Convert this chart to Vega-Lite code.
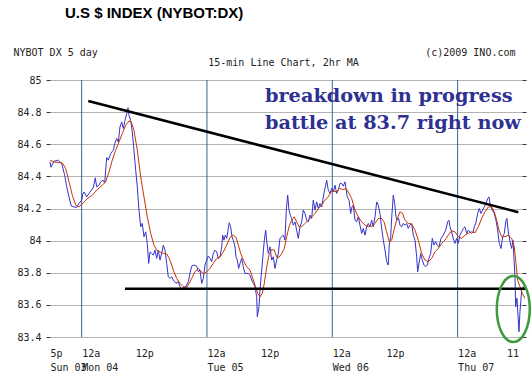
{
  "$schema": "https://vega.github.io/schema/vega-lite/v6.json",
  "width": 472,
  "height": 257,
  "autosize": "none",
  "padding": {"left": 50, "top": 80, "right": 10, "bottom": 40},
  "background": "white",
  "config": {"view": {"stroke": null}},
  "title": {"text": "U.S $ INDEX (NYBOT:DX)", "anchor": "start", "frame": "group", "dx": 15, "offset": 14, "baseline": "alphabetic", "font": "Liberation Sans", "fontSize": 15, "fontWeight": "bold", "color": "#000000"},
  "datasets": {
    "blue": [
      {"h":17.94,"v":84.490},{"h":18.13,"v":84.457},{"h":18.70,"v":84.494},{"h":19.53,"v":84.501},{"h":20.18,"v":84.480},{"h":20.75,"v":84.407},{"h":21.14,"v":84.335},{"h":21.58,"v":84.272},{"h":22.02,"v":84.215},{"h":22.53,"v":84.210},{"h":23.05,"v":84.206},{"h":23.49,"v":84.231},{"h":24.01,"v":84.252},{"h":24.20,"v":84.289},{"h":24.45,"v":84.303},{"h":24.97,"v":84.272},{"h":25.41,"v":84.294},{"h":25.85,"v":84.314},{"h":26.23,"v":84.331},{"h":26.61,"v":84.391},{"h":26.88,"v":84.335},{"h":27.32,"v":84.345},{"h":27.65,"v":84.366},{"h":28.09,"v":84.376},{"h":28.41,"v":84.359},{"h":28.80,"v":84.517},{"h":29.10,"v":84.501},{"h":29.56,"v":84.542},{"h":30.06,"v":84.563},{"h":30.39,"v":84.608},{"h":30.71,"v":84.636},{"h":31.02,"v":84.614},{"h":31.34,"v":84.708},{"h":31.67,"v":84.739},{"h":31.98,"v":84.698},{"h":32.30,"v":84.749},{"h":32.63,"v":84.791},{"h":32.88,"v":84.827},{"h":33.07,"v":84.780},{"h":33.39,"v":84.749},{"h":33.70,"v":84.677},{"h":34.02,"v":84.563},{"h":34.35,"v":84.438},{"h":34.66,"v":84.335},{"h":34.98,"v":84.190},{"h":35.31,"v":84.086},{"h":35.61,"v":84.107},{"h":35.94,"v":84.024},{"h":36.27,"v":84.055},{"h":36.57,"v":83.983},{"h":36.84,"v":83.858},{"h":37.09,"v":83.930},{"h":37.41,"v":83.920},{"h":37.72,"v":83.910},{"h":38.05,"v":83.941},{"h":38.37,"v":83.889},{"h":38.68,"v":83.941},{"h":39.00,"v":83.879},{"h":39.33,"v":83.920},{"h":39.64,"v":83.972},{"h":39.96,"v":83.941},{"h":40.29,"v":83.858},{"h":40.59,"v":83.775},{"h":40.92,"v":83.765},{"h":41.24,"v":83.775},{"h":41.55,"v":83.754},{"h":42.07,"v":83.734},{"h":42.51,"v":83.744},{"h":42.83,"v":83.713},{"h":43.16,"v":83.692},{"h":43.47,"v":83.709},{"h":43.98,"v":83.713},{"h":44.42,"v":83.744},{"h":44.75,"v":83.796},{"h":45.07,"v":83.841},{"h":45.51,"v":83.848},{"h":46.03,"v":83.841},{"h":46.34,"v":83.806},{"h":46.66,"v":83.817},{"h":46.99,"v":83.734},{"h":47.30,"v":83.765},{"h":47.62,"v":83.848},{"h":47.95,"v":83.879},{"h":48.25,"v":83.904},{"h":48.58,"v":83.889},{"h":48.90,"v":83.868},{"h":49.21,"v":83.920},{"h":49.54,"v":83.941},{"h":49.86,"v":83.930},{"h":50.17,"v":83.889},{"h":50.49,"v":83.899},{"h":50.82,"v":83.961},{"h":51.01,"v":84.034},{"h":51.26,"v":84.003},{"h":51.51,"v":84.034},{"h":51.78,"v":84.014},{"h":52.03,"v":84.065},{"h":52.27,"v":84.111},{"h":52.54,"v":84.086},{"h":52.79,"v":84.024},{"h":53.04,"v":84.003},{"h":53.37,"v":83.961},{"h":53.56,"v":83.899},{"h":53.81,"v":83.879},{"h":54.07,"v":83.827},{"h":54.32,"v":83.858},{"h":54.65,"v":83.889},{"h":54.96,"v":83.837},{"h":55.28,"v":83.796},{"h":55.91,"v":83.796},{"h":56.24,"v":83.785},{"h":56.56,"v":83.754},{"h":56.87,"v":83.734},{"h":57.20,"v":83.713},{"h":57.52,"v":83.650},{"h":57.64,"v":83.526},{"h":57.96,"v":83.588},{"h":58.15,"v":83.692},{"h":58.48,"v":83.817},{"h":58.79,"v":83.930},{"h":58.98,"v":84.003},{"h":59.25,"v":84.065},{"h":59.49,"v":83.983},{"h":59.74,"v":83.920},{"h":60.07,"v":83.961},{"h":60.39,"v":83.879},{"h":60.70,"v":83.899},{"h":61.03,"v":83.827},{"h":61.35,"v":83.879},{"h":61.66,"v":83.920},{"h":61.98,"v":84.014},{"h":62.31,"v":84.024},{"h":62.62,"v":84.034},{"h":62.94,"v":84.003},{"h":63.19,"v":84.190},{"h":63.46,"v":84.283},{"h":63.71,"v":84.190},{"h":63.96,"v":84.159},{"h":64.22,"v":84.138},{"h":64.53,"v":84.096},{"h":64.86,"v":84.117},{"h":65.18,"v":84.065},{"h":65.49,"v":84.014},{"h":65.81,"v":84.086},{"h":66.14,"v":84.117},{"h":66.45,"v":84.190},{"h":66.77,"v":84.169},{"h":67.10,"v":84.127},{"h":67.40,"v":84.117},{"h":67.73,"v":84.159},{"h":68.05,"v":84.138},{"h":68.36,"v":84.252},{"h":68.69,"v":84.190},{"h":69.01,"v":84.241},{"h":69.32,"v":84.200},{"h":69.64,"v":84.231},{"h":69.97,"v":84.210},{"h":70.28,"v":84.272},{"h":70.60,"v":84.325},{"h":70.93,"v":84.376},{"h":71.23,"v":84.314},{"h":71.56,"v":84.294},{"h":71.88,"v":84.325},{"h":72.19,"v":84.303},{"h":72.52,"v":84.345},{"h":72.84,"v":84.294},{"h":73.15,"v":84.314},{"h":73.47,"v":84.356},{"h":73.80,"v":84.356},{"h":74.11,"v":84.339},{"h":74.43,"v":84.366},{"h":74.62,"v":84.325},{"h":74.87,"v":84.272},{"h":75.20,"v":84.252},{"h":75.52,"v":84.169},{"h":75.77,"v":84.210},{"h":76.02,"v":84.221},{"h":76.35,"v":84.127},{"h":76.67,"v":84.117},{"h":76.98,"v":84.148},{"h":77.30,"v":84.096},{"h":77.63,"v":84.045},{"h":77.94,"v":84.076},{"h":78.26,"v":84.034},{"h":78.59,"v":84.086},{"h":78.89,"v":84.107},{"h":79.22,"v":84.086},{"h":79.54,"v":84.127},{"h":79.85,"v":84.086},{"h":80.18,"v":84.148},{"h":80.50,"v":84.241},{"h":80.81,"v":84.221},{"h":81.13,"v":84.169},{"h":81.46,"v":84.076},{"h":81.77,"v":84.003},{"h":82.09,"v":83.941},{"h":82.42,"v":83.868},{"h":82.72,"v":83.848},{"h":82.91,"v":83.972},{"h":83.18,"v":84.024},{"h":83.43,"v":84.169},{"h":83.68,"v":84.283},{"h":83.95,"v":84.231},{"h":84.20,"v":84.148},{"h":84.45,"v":84.127},{"h":84.71,"v":84.138},{"h":84.96,"v":84.096},{"h":85.29,"v":84.086},{"h":85.60,"v":84.107},{"h":85.92,"v":84.096},{"h":86.25,"v":84.107},{"h":86.55,"v":84.076},{"h":86.88,"v":84.096},{"h":87.20,"v":84.107},{"h":87.51,"v":84.034},{"h":87.84,"v":84.003},{"h":88.16,"v":83.899},{"h":88.35,"v":83.806},{"h":88.60,"v":83.858},{"h":88.93,"v":83.920},{"h":89.23,"v":83.879},{"h":89.56,"v":83.848},{"h":89.89,"v":83.837},{"h":90.19,"v":83.848},{"h":90.52,"v":83.889},{"h":90.84,"v":83.920},{"h":91.15,"v":84.014},{"h":91.47,"v":83.972},{"h":91.80,"v":83.993},{"h":92.11,"v":83.972},{"h":92.43,"v":83.961},{"h":92.82,"v":84.014},{"h":93.26,"v":84.034},{"h":93.72,"v":84.065},{"h":94.10,"v":84.117},{"h":94.35,"v":84.127},{"h":94.54,"v":84.086},{"h":94.86,"v":84.055},{"h":95.17,"v":84.014},{"h":95.50,"v":83.983},{"h":95.82,"v":84.014},{"h":96.13,"v":83.983},{"h":96.45,"v":84.034},{"h":96.78,"v":84.055},{"h":97.09,"v":84.076},{"h":97.41,"v":84.086},{"h":97.74,"v":84.045},{"h":98.04,"v":84.065},{"h":98.37,"v":84.055},{"h":98.69,"v":84.045},{"h":99.00,"v":84.055},{"h":99.19,"v":84.086},{"h":99.46,"v":84.107},{"h":99.84,"v":84.169},{"h":100.15,"v":84.200},{"h":100.47,"v":84.169},{"h":100.80,"v":84.190},{"h":101.11,"v":84.210},{"h":101.43,"v":84.231},{"h":101.76,"v":84.262},{"h":102.01,"v":84.272},{"h":102.26,"v":84.221},{"h":102.64,"v":84.190},{"h":103.02,"v":84.169},{"h":103.35,"v":84.127},{"h":103.67,"v":84.065},{"h":103.98,"v":83.983},{"h":104.31,"v":83.951},{"h":104.63,"v":84.024},{"h":104.94,"v":84.045},{"h":105.26,"v":84.127},{"h":105.45,"v":84.138},{"h":105.70,"v":84.055},{"h":106.03,"v":83.993},{"h":106.35,"v":83.951},{"h":106.60,"v":84.003},{"h":106.79,"v":83.889},{"h":106.99,"v":83.775},{"h":107.12,"v":83.588},{"h":107.37,"v":83.641},{"h":107.62,"v":83.506},{"h":107.75,"v":83.433},{"h":107.94,"v":83.557},{"h":108.27,"v":83.692},{"h":108.58,"v":83.713},{"h":108.90,"v":83.692}
    ],
    "red": [
      {"h":17.94,"v":84.501},{"h":18.70,"v":84.490},{"h":20.29,"v":84.484},{"h":20.95,"v":84.449},{"h":21.58,"v":84.366},{"h":22.21,"v":84.283},{"h":22.86,"v":84.221},{"h":23.49,"v":84.210},{"h":24.32,"v":84.235},{"h":25.08,"v":84.262},{"h":26.04,"v":84.283},{"h":27.00,"v":84.318},{"h":27.95,"v":84.345},{"h":28.61,"v":84.366},{"h":29.24,"v":84.428},{"h":29.87,"v":84.501},{"h":30.52,"v":84.563},{"h":31.15,"v":84.614},{"h":31.78,"v":84.667},{"h":32.43,"v":84.718},{"h":33.07,"v":84.745},{"h":33.51,"v":84.739},{"h":34.02,"v":84.687},{"h":34.66,"v":84.563},{"h":35.31,"v":84.397},{"h":35.94,"v":84.272},{"h":36.57,"v":84.148},{"h":37.22,"v":84.045},{"h":37.85,"v":83.972},{"h":38.37,"v":83.941},{"h":39.00,"v":83.930},{"h":39.64,"v":83.920},{"h":40.29,"v":83.916},{"h":40.78,"v":83.889},{"h":41.24,"v":83.848},{"h":41.68,"v":83.806},{"h":42.20,"v":83.765},{"h":42.83,"v":83.734},{"h":43.47,"v":83.713},{"h":44.12,"v":83.709},{"h":44.61,"v":83.734},{"h":45.07,"v":83.765},{"h":45.71,"v":83.806},{"h":46.34,"v":83.827},{"h":46.80,"v":83.812},{"h":47.30,"v":83.792},{"h":47.95,"v":83.806},{"h":48.58,"v":83.827},{"h":49.21,"v":83.858},{"h":49.86,"v":83.889},{"h":50.49,"v":83.899},{"h":51.13,"v":83.930},{"h":51.78,"v":83.972},{"h":52.41,"v":84.020},{"h":53.04,"v":84.034},{"h":53.56,"v":84.020},{"h":54.00,"v":83.972},{"h":54.46,"v":83.920},{"h":54.96,"v":83.879},{"h":55.61,"v":83.837},{"h":56.24,"v":83.817},{"h":56.68,"v":83.775},{"h":57.20,"v":83.723},{"h":57.71,"v":83.672},{"h":58.15,"v":83.650},{"h":58.59,"v":83.672},{"h":58.98,"v":83.734},{"h":59.44,"v":83.837},{"h":59.88,"v":83.910},{"h":60.39,"v":83.945},{"h":60.89,"v":83.941},{"h":61.35,"v":83.899},{"h":61.79,"v":83.896},{"h":62.31,"v":83.920},{"h":62.81,"v":83.951},{"h":63.27,"v":84.024},{"h":63.71,"v":84.086},{"h":64.22,"v":84.127},{"h":64.72,"v":84.148},{"h":65.18,"v":84.117},{"h":65.62,"v":84.086},{"h":66.14,"v":84.086},{"h":66.77,"v":84.107},{"h":67.40,"v":84.127},{"h":68.05,"v":84.148},{"h":68.69,"v":84.169},{"h":69.32,"v":84.200},{"h":69.97,"v":84.221},{"h":70.60,"v":84.252},{"h":71.23,"v":84.272},{"h":71.75,"v":84.303},{"h":72.19,"v":84.310},{"h":72.84,"v":84.303},{"h":73.34,"v":84.325},{"h":74.11,"v":84.318},{"h":74.62,"v":84.325},{"h":75.06,"v":84.303},{"h":75.71,"v":84.262},{"h":76.35,"v":84.190},{"h":76.98,"v":84.148},{"h":77.63,"v":84.117},{"h":78.26,"v":84.096},{"h":78.89,"v":84.086},{"h":79.54,"v":84.090},{"h":80.18,"v":84.107},{"h":80.81,"v":84.138},{"h":81.46,"v":84.138},{"h":81.90,"v":84.117},{"h":82.42,"v":84.055},{"h":82.91,"v":83.993},{"h":83.37,"v":84.003},{"h":83.81,"v":84.065},{"h":84.33,"v":84.127},{"h":84.96,"v":84.179},{"h":85.48,"v":84.169},{"h":85.92,"v":84.127},{"h":86.55,"v":84.107},{"h":87.20,"v":84.103},{"h":87.84,"v":84.065},{"h":88.47,"v":84.003},{"h":89.12,"v":83.920},{"h":89.75,"v":83.879},{"h":90.38,"v":83.868},{"h":91.03,"v":83.889},{"h":91.67,"v":83.930},{"h":92.30,"v":83.951},{"h":92.95,"v":83.983},{"h":93.58,"v":84.003},{"h":94.21,"v":84.034},{"h":94.86,"v":84.061},{"h":95.50,"v":84.055},{"h":96.13,"v":84.024},{"h":96.78,"v":84.014},{"h":97.41,"v":84.034},{"h":98.04,"v":84.045},{"h":98.69,"v":84.055},{"h":99.33,"v":84.049},{"h":99.96,"v":84.086},{"h":100.61,"v":84.138},{"h":101.24,"v":84.179},{"h":101.87,"v":84.210},{"h":102.52,"v":84.210},{"h":103.02,"v":84.179},{"h":103.48,"v":84.127},{"h":103.92,"v":84.065},{"h":104.44,"v":84.024},{"h":105.07,"v":84.024},{"h":105.70,"v":84.034},{"h":106.35,"v":84.014},{"h":106.85,"v":83.961},{"h":107.18,"v":83.858},{"h":107.50,"v":83.754},{"h":107.94,"v":83.713},{"h":108.38,"v":83.672},{"h":108.90,"v":83.641}
    ],
    "days": [{"h":24},{"h":48},{"h":72},{"h":96}],
    "trend": [{"h":25.27,"v":84.869},{"h":107.62,"v":84.177}],
    "support": [{"h":32.30,"h2":109.1,"v":83.70}],
    "circle": [{"h":106.66,"v":83.574}],
    "notes": [
      {"h":59.11,"v":84.863,"text":"breakdown in progress"},
      {"h":59.11,"v":84.693,"text":"battle at 83.7 right now"}
    ]
  },
  "resolve": {"axis": {"x": "independent", "y": "independent"}},
  "layer": [
    {
      "data": {"name": "days"},
      "mark": {"type": "rule", "color": "#336699", "strokeWidth": 1},
      "encoding": {
        "x": {"field": "h", "type": "quantitative", "scale": {"domain": [17.94, 108.33], "nice": false, "zero": false},
          "axis": {"orient": "bottom", "values": [17.94, 24, 48, 72, 96], "labelExpr": "datum.value < 20 ? 'Sun 03' : datum.value == 24 ? 'Mon 04' : datum.value == 48 ? 'Tue 05' : datum.value == 72 ? 'Wed 06' : 'Thu 07'", "labelAlign": "left", "labelDx": 4, "labelPadding": 25, "ticks": false, "domain": false, "grid": false, "labelFlush": false, "labelOverlap": false, "labelBound": false, "labelFont": "DejaVu Sans Mono", "labelFontSize": 10, "labelColor": "#222222", "title": null}}
      }
    },
    {
      "data": {"name": "blue"},
      "mark": {"type": "line", "color": "#3333cc", "strokeWidth": 1, "clip": false},
      "encoding": {
        "x": {"field": "h", "type": "quantitative",
          "axis": {"orient": "bottom", "values": [17.94, 24, 36, 48, 60, 72, 84, 96, 106.5], "labelExpr": "datum.value < 20 ? '5p' : datum.value > 100 ? '11' : (datum.value % 24 == 0 ? '12a' : '12p')", "labelAlign": {"condition": {"test": "datum.value % 24 == 0 || datum.value < 20", "value": "left"}, "value": "center"}, "labelPadding": 11, "ticks": false, "domain": false, "grid": false, "labelFlush": false, "labelOverlap": false, "labelBound": false, "labelFont": "DejaVu Sans Mono", "labelFontSize": 10, "labelColor": "#222222", "title": null}},
        "y": {"field": "v", "type": "quantitative", "scale": {"domain": [83.4, 85], "nice": false, "zero": false},
          "axis": {"orient": "left", "values": [83.4, 83.6, 83.8, 84, 84.2, 84.4, 84.6, 84.8, 85], "format": ".1~f", "grid": true, "gridColor": "#b4b4b4", "gridWidth": 1, "domain": false, "tickSize": 4, "tickColor": "#333333", "labelPadding": 5, "labelFont": "DejaVu Sans Mono", "labelFontSize": 10, "labelColor": "#222222", "labelOverlap": false, "labelFlush": false,
            "title": "NYBOT DX 5 day", "titleAngle": 0, "titleAlign": "left", "titleBaseline": "middle", "titleX": -37, "titleY": -28, "titleFont": "DejaVu Sans Mono", "titleFontSize": 10, "titleFontWeight": "normal", "titleColor": "#222222"}}
      }
    },
    {
      "data": {"name": "red"},
      "mark": {"type": "line", "color": "#cc3300", "strokeWidth": 1, "clip": false},
      "encoding": {
        "x": {"field": "h", "type": "quantitative", "axis": null},
        "y": {"field": "v", "type": "quantitative",
          "axis": {"orient": "right", "values": [83.4, 83.6, 83.8, 84, 84.2, 84.4, 84.6, 84.8, 85], "labels": false, "grid": false, "domain": false, "tickSize": 4, "tickColor": "#333333",
            "title": "(c)2009 INO.com", "titleAngle": 0, "titleAlign": "right", "titleBaseline": "middle", "titleX": -7, "titleY": -28, "titleFont": "DejaVu Sans Mono", "titleFontSize": 10, "titleFontWeight": "normal", "titleColor": "#222222"}}
      }
    },
    {
      "data": {"name": "trend"},
      "mark": {"type": "line", "color": "#000000", "strokeWidth": 2.5, "clip": false},
      "encoding": {
        "x": {"field": "h", "type": "quantitative",
          "axis": {"orient": "top", "labels": false, "ticks": false, "domain": false, "grid": false, "title": "15-min Line Chart, 2hr MA", "titleX": 233, "titleY": -18, "titleAlign": "center", "titleBaseline": "middle", "titleFont": "DejaVu Sans Mono", "titleFontSize": 10, "titleFontWeight": "normal", "titleColor": "#222222"}},
        "y": {"field": "v", "type": "quantitative", "axis": null}
      }
    },
    {
      "data": {"name": "support"},
      "mark": {"type": "rule", "color": "#000000", "strokeWidth": 2.5, "clip": false},
      "encoding": {
        "x": {"field": "h", "type": "quantitative", "axis": null},
        "x2": {"field": "h2"},
        "y": {"field": "v", "type": "quantitative", "axis": null}
      }
    },
    {
      "data": {"name": "circle"},
      "mark": {"type": "point", "shape": "M0,-1 C0.276,-1 0.5,-0.552 0.5,0 C0.5,0.552 0.276,1 0,1 C-0.276,1 -0.5,0.552 -0.5,0 C-0.5,-0.552 -0.276,-1 0,-1 Z", "size": 4356, "filled": false, "stroke": "#3d9a3d", "strokeWidth": 2.5, "opacity": 1, "clip": false},
      "encoding": {
        "x": {"field": "h", "type": "quantitative", "axis": null},
        "y": {"field": "v", "type": "quantitative", "axis": null}
      }
    },
    {
      "data": {"name": "notes"},
      "mark": {"type": "text", "align": "left", "baseline": "alphabetic", "font": "DejaVu Serif", "fontWeight": "bold", "fontSize": 19.3, "color": "#2e3192"},
      "encoding": {
        "x": {"field": "h", "type": "quantitative", "axis": null},
        "y": {"field": "v", "type": "quantitative", "axis": null},
        "text": {"field": "text"}
      }
    }
  ]
}
